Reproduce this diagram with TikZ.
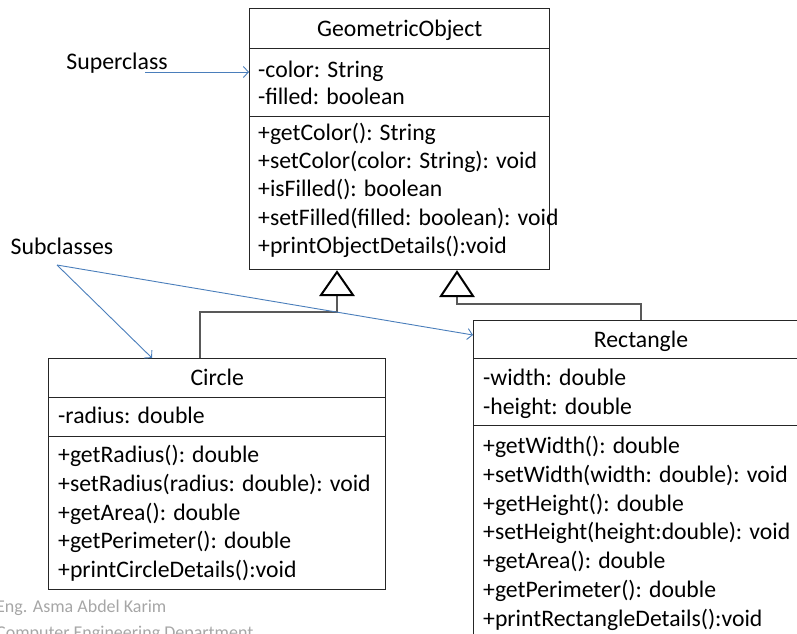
\documentclass[tikz,border=0pt]{standalone}
\usepackage{fontspec}
\setmainfont{Carlito}
\usetikzlibrary{arrows.meta}
\definecolor{noteblue}{HTML}{4A7EBB}
\definecolor{linkgrey}{HTML}{595959}
\definecolor{footgrey}{HTML}{A6A6A6}
\tikzset{
  cls/.style={draw=black!85, line width=1.4pt, rectangle, inner sep=0pt, anchor=north west},
  txt/.style={inner sep=0pt, text height=18pt, text depth=3pt, font=\fontsize{23.7}{28}\selectfont},
  member/.style={txt, anchor=west},
  title/.style={txt, anchor=center},
  note/.style={inner sep=0pt, font=\fontsize{23.8}{28}\selectfont},
  pointer/.style={draw=noteblue, line width=0.9pt, -{Straight Barb[length=5pt,width=11pt]}},
  inherit/.style={draw=black, line width=2pt, line join=miter},
  link/.style={draw=linkgrey, line width=1.6pt},
  footer/.style={inner sep=0pt, anchor=west, text=footgrey, font=\fontsize{18}{21}\selectfont}
}
\begin{document}
\begin{tikzpicture}[x=1pt,y=-1pt]
\useasboundingbox (0,0) rectangle (797,633);
\clip (0,0) rectangle (797,633);

% ---- GeometricObject ----
\node[cls, minimum width=300pt, minimum height=40pt] (gotitle) at (249,8) {};
\node[cls, minimum width=300pt, minimum height=68pt] (goattr) at (249,48) {};
\node[cls, minimum width=300pt, minimum height=153pt] (gometh) at (249,116) {};
\node[title] at (gotitle.center) {GeometricObject};
\node[member] (g1) at (258,70) {-color: String};
\node[member] (g2) at (258,97) {-filled: boolean};
\node[member] (g3) at (258,133) {+getColor(): String};
\node[member] (g4) at (258,161) {+setColor(color: String): void};
\node[member] (g5) at (258,189) {+isFilled(): boolean};
\node[member] (g6) at (258,218) {+setFilled(filled: boolean): void};
\node[member] (g7) at (258,246) {+printObjectDetails():void};

% ---- Circle ----
\node[cls, minimum width=337pt, minimum height=39pt] (ctitle) at (48,358) {};
\node[cls, minimum width=337pt, minimum height=39pt] (cattr) at (48,397) {};
\node[cls, minimum width=337pt, minimum height=153pt] (cmeth) at (48,436) {};
\node[title] at (ctitle.center) {Circle};
\node[member] (c1) at (58,416) {-radius: double};
\node[member] (c2) at (58,455) {+getRadius(): double};
\node[member] (c3) at (58,484) {+setRadius(radius: double): void};
\node[member] (c4) at (58,513) {+getArea(): double};
\node[member] (c5) at (58,541) {+getPerimeter(): double};
\node[member] (c6) at (58,570) {+printCircleDetails():void};

% ---- Rectangle (runs past the right and bottom edges) ----
\node[cls, minimum width=340pt, minimum height=38pt] (rtitle) at (473,320) {};
\node[cls, minimum width=340pt, minimum height=67pt] (rattr) at (473,358) {};
\node[cls, minimum width=340pt, minimum height=240pt] (rmeth) at (473,425) {};
\node[title] at (641,340) {Rectangle};
\node[member] (r1) at (483,378) {-width: double};
\node[member] (r2) at (483,407) {-height: double};
\node[member] (r3) at (483,446) {+getWidth(): double};
\node[member] (r4) at (483,475) {+setWidth(width: double): void};
\node[member] (r5) at (483,504) {+getHeight(): double};
\node[member] (r6) at (483,532) {+setHeight(height:double): void};
\node[member] (r7) at (483,561) {+getArea(): double};
\node[member] (r8) at (483,590) {+getPerimeter(): double};
\node[member] (r9) at (483,619) {+printRectangleDetails():void};

% ---- generalisation links ----
\coordinate (tri1) at (337,295);
\coordinate (tri2) at (457,296);
\coordinate (cjoin) at (200,358);
\coordinate (rjoin) at (641,320);
\draw[link] (tri1) -- (337,312) -| (cjoin);
\draw[link] (tri2) -- (457,304) -| (rjoin);
\draw[inherit] (321,295) -- (337,272) -- (353,295) -- cycle;
\draw[inherit] (441,296) -- (457,272) -- (473,296) -- cycle;

% ---- annotations ----
\node[note] (sup) at (117,63) {Superclass};
\node[note] (sub) at (62,246) {Subclasses};
\coordinate (supstart) at (145,72);
\coordinate (supend) at (249,72);
\coordinate (subroot) at (57,265);
\coordinate (circpt) at (152,358);
\coordinate (rectpt) at (473,335);
\draw[pointer] (supstart) -- (supend);
\draw[pointer] (subroot) -- (circpt);
\draw[pointer] (subroot) -- (rectpt);

% ---- footer ----
\node[footer] (f1) at (-4,608) {Eng. Asma Abdel Karim};
\node[footer] (f2) at (-4,634) {Computer Engineering Department};
\end{tikzpicture}
\end{document}
